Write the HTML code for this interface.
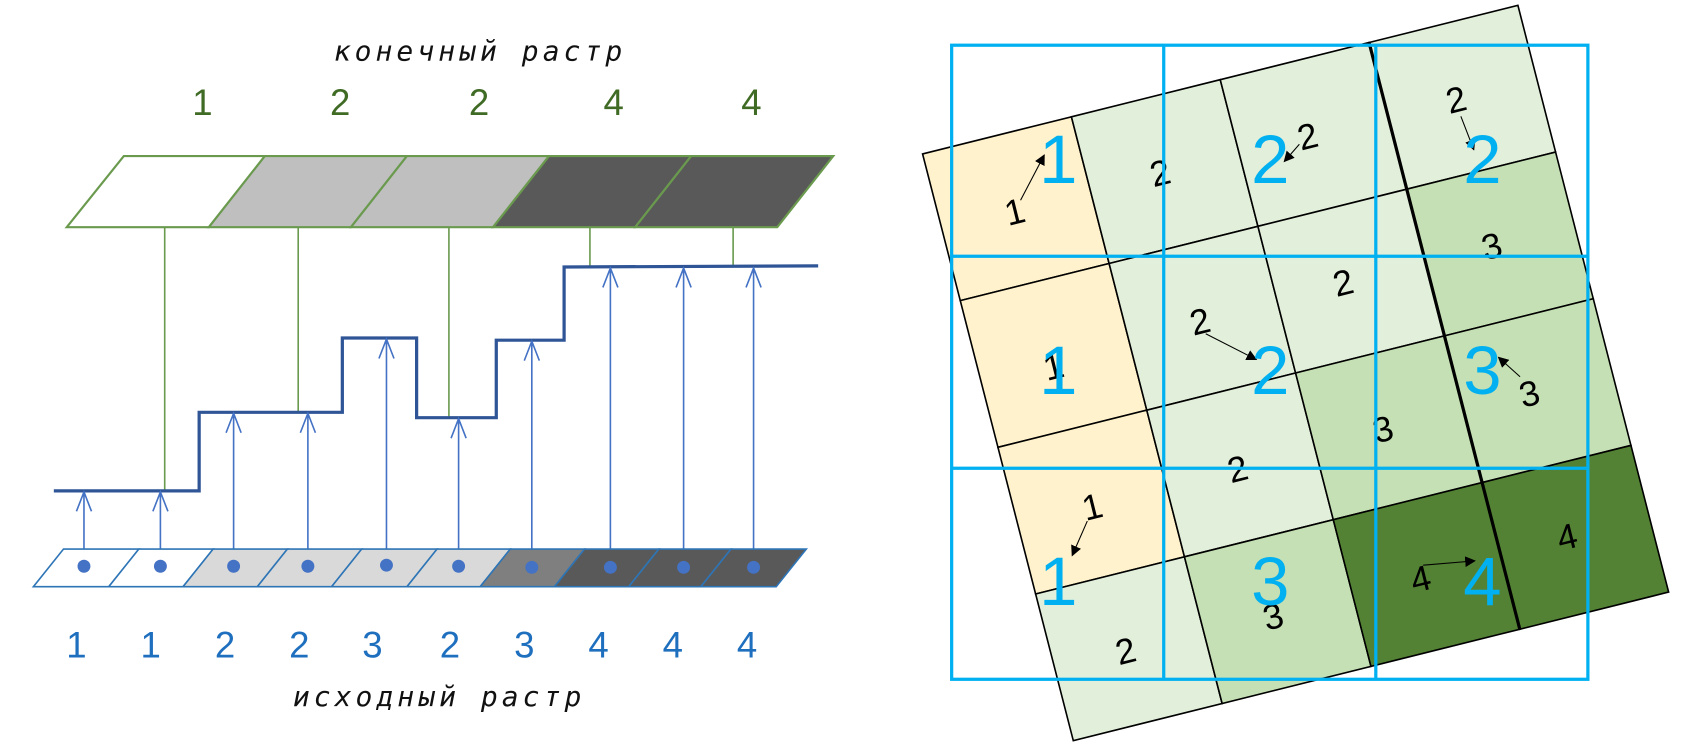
<!DOCTYPE html>
<html><head><meta charset="utf-8"><style>
html,body{margin:0;padding:0;background:#fff;}
svg{display:block;}
.t{font-family:"DejaVu Sans Mono","Liberation Mono",monospace;font-style:italic;font-size:26px;fill:#111;}
.g{font-family:"Liberation Sans",sans-serif;font-size:34px;fill:#3f6b25;text-anchor:middle;}
.b{font-family:"Liberation Sans",sans-serif;font-size:34px;fill:#1f6fbf;text-anchor:middle;}
.k{font-family:"Liberation Sans",sans-serif;font-size:33px;fill:#000;text-anchor:middle;}
.big{font-family:"Liberation Sans",sans-serif;font-size:64px;fill:#00b0f0;text-anchor:middle;}
</style></head><body>
<svg width="1688" height="754" viewBox="0 0 1568 700.4" preserveAspectRatio="none" xmlns="http://www.w3.org/2000/svg">
<defs>
<marker id="ah" markerWidth="10" markerHeight="10" refX="9" refY="5" orient="auto" markerUnits="userSpaceOnUse"><path d="M0,0 L10,5 L0,10 z" fill="#000"/></marker>
</defs>

<text class="t" x="310" y="56" textLength="268" lengthAdjust="spacing">конечный растр</text>
<text class="g" x="188" y="107">1</text>
<text class="g" x="316" y="107">2</text>
<text class="g" x="445" y="107">2</text>
<text class="g" x="570" y="107">4</text>
<text class="g" x="698" y="107">4</text>

<g stroke="#6a9a4e" stroke-width="2">
<polygon points="62,211 194,211 246,145 115,145" fill="#fff"/>
<polygon points="194,211 326,211 378,145 246,145" fill="#bfbfbf"/>
<polygon points="326,211 458,211 510,145 378,145" fill="#bfbfbf"/>
<polygon points="458,211 590,211 642,145 510,145" fill="#595959"/>
<polygon points="590,211 722,211 774,145 642,145" fill="#595959"/>
</g>
<g stroke="#6a9a4e" stroke-width="1.5">
<line x1="153" y1="211" x2="153" y2="456"/>
<line x1="277" y1="211" x2="277" y2="383"/>
<line x1="417" y1="211" x2="417" y2="388"/>
<line x1="548" y1="211" x2="548" y2="248"/>
<line x1="681" y1="211" x2="681" y2="248"/>
</g>

<polyline points="50,456 185,456 185,383 318,383 318,314 387,314 387,388 461,388 461,316 524,316 524,248 760,247" fill="none" stroke="#2f5597" stroke-width="3"/>

<g stroke="#4472c4" stroke-width="1.5" fill="none">
<path d="M78,526 V457 M71,475 L78,457 L85,475"/>
<path d="M149,526 V457 M142,475 L149,457 L156,475"/>
<path d="M217,526 V384 M210,402 L217,384 L224,402"/>
<path d="M286,526 V384 M279,402 L286,384 L293,402"/>
<path d="M359,526 V315 M352,333 L359,315 L366,333"/>
<path d="M426,526 V389 M419,407 L426,389 L433,407"/>
<path d="M494,526 V317 M487,335 L494,317 L501,335"/>
<path d="M567,526 V249 M560,267 L567,249 L574,267"/>
<path d="M635,526 V249 M628,267 L635,249 L642,267"/>
<path d="M700,526 V249 M693,267 L700,249 L707,267"/>
</g>

<g stroke="#2e75b6" stroke-width="1.5">
<polygon points="31,545 101,545 129,510 59,510" fill="#fff"/>
<polygon points="101,545 170,545 198,510 129,510" fill="#fff"/>
<polygon points="170,545 239,545 267,510 198,510" fill="#d9d9d9"/>
<polygon points="239,545 308,545 336,510 267,510" fill="#d9d9d9"/>
<polygon points="308,545 378,545 406,510 336,510" fill="#d9d9d9"/>
<polygon points="378,545 446,545 474,510 406,510" fill="#d9d9d9"/>
<polygon points="446,545 515,545 543,510 474,510" fill="#7f7f7f"/>
<polygon points="515,545 584,545 612,510 543,510" fill="#595959"/>
<polygon points="584,545 651,545 679,510 612,510" fill="#595959"/>
<polygon points="651,545 721,545 749,510 679,510" fill="#595959"/>
</g>
<g fill="#4472c4">
<circle cx="78" cy="526" r="6"/><circle cx="149" cy="526" r="6"/><circle cx="217" cy="526" r="6"/>
<circle cx="286" cy="526" r="6"/><circle cx="359" cy="525" r="6"/><circle cx="426" cy="526" r="6"/>
<circle cx="494" cy="527" r="6"/><circle cx="567" cy="527" r="6"/><circle cx="635" cy="527" r="6"/>
<circle cx="700" cy="527" r="6"/>
</g>
<text class="b" x="71" y="611">1</text><text class="b" x="140" y="611">1</text>
<text class="b" x="209" y="611">2</text><text class="b" x="278" y="611">2</text>
<text class="b" x="346" y="611">3</text><text class="b" x="418" y="611">2</text>
<text class="b" x="487" y="611">3</text><text class="b" x="556" y="611">4</text>
<text class="b" x="625" y="611">4</text><text class="b" x="694" y="611">4</text>
<text class="t" x="272" y="656" textLength="268" lengthAdjust="spacing">исходный растр</text>

<g stroke="#000" stroke-width="1.5">
<polygon points="857,143 995.25,108.5 1030.25,244.75 892,279.25" fill="#fff2cc"/>
<polygon points="995.25,108.5 1133.5,74 1168.5,210.25 1030.25,244.75" fill="#e2efda"/>
<polygon points="1133.5,74 1271.75,39.5 1306.75,175.75 1168.5,210.25" fill="#e2efda"/>
<polygon points="1271.75,39.5 1410,5 1445,141.25 1306.75,175.75" fill="#e2efda"/>
<polygon points="892,279.25 1030.25,244.75 1065.25,381 927,415.5" fill="#fff2cc"/>
<polygon points="1030.25,244.75 1168.5,210.25 1203.5,346.5 1065.25,381" fill="#e2efda"/>
<polygon points="1168.5,210.25 1306.75,175.75 1341.75,312 1203.5,346.5" fill="#e2efda"/>
<polygon points="1306.75,175.75 1445,141.25 1480,277.5 1341.75,312" fill="#c5e0b4"/>
<polygon points="927,415.5 1065.25,381 1100.25,517.25 962,551.75" fill="#fff2cc"/>
<polygon points="1065.25,381 1203.5,346.5 1238.5,482.75 1100.25,517.25" fill="#e2efda"/>
<polygon points="1203.5,346.5 1341.75,312 1376.75,448.25 1238.5,482.75" fill="#c5e0b4"/>
<polygon points="1341.75,312 1480,277.5 1515,413.75 1376.75,448.25" fill="#c5e0b4"/>
<polygon points="962,551.75 1100.25,517.25 1135.25,653.5 997,688" fill="#e2efda"/>
<polygon points="1100.25,517.25 1238.5,482.75 1273.5,619 1135.25,653.5" fill="#c5e0b4"/>
<polygon points="1238.5,482.75 1376.75,448.25 1411.75,584.5 1273.5,619" fill="#548235"/>
<polygon points="1376.75,448.25 1515,413.75 1550,550 1411.75,584.5" fill="#548235"/>
</g>
<line x1="1271.75" y1="39.5" x2="1411.75" y2="584.5" stroke="#000" stroke-width="3"/>

<g class="k">
<text x="943" y="208" transform="rotate(-14 943 198)">1</text>
<text x="1078" y="172" transform="rotate(-14 1078 162)">2</text>
<text x="1215" y="138" transform="rotate(-14 1215 128)">2</text>
<text x="1353" y="104" transform="rotate(-14 1353 94)">2</text>
<text x="1386" y="240" transform="rotate(-14 1386 230)">3</text>
<text x="1248" y="274" transform="rotate(-14 1248 264)">2</text>
<text x="1115" y="310" transform="rotate(-14 1115 300)">2</text>
<text x="979" y="352" transform="rotate(-14 979 342)">1</text>
<text x="1421" y="377" transform="rotate(-14 1421 367)">3</text>
<text x="1285" y="410" transform="rotate(-14 1285 400)">3</text>
<text x="1150" y="447" transform="rotate(-14 1150 437)">2</text>
<text x="1015" y="482" transform="rotate(-14 1015 472)">1</text>
<text x="1456" y="510" transform="rotate(-14 1456 500)">4</text>
<text x="1320" y="549" transform="rotate(-14 1320 539)">4</text>
<text x="1183" y="584" transform="rotate(-14 1183 574)">3</text>
<text x="1046" y="616" transform="rotate(-14 1046 606)">2</text>
</g>
<g stroke="#000" stroke-width="1" marker-end="url(#ah)">
<line x1="948" y1="186" x2="970" y2="144"/>
<line x1="1207" y1="134" x2="1193" y2="150"/>
<line x1="1357" y1="108" x2="1369" y2="139"/>
<line x1="1120" y1="310" x2="1167" y2="334"/>
<line x1="1412" y1="350" x2="1392" y2="332"/>
<line x1="1010" y1="484" x2="996" y2="516"/>
<line x1="1322" y1="525" x2="1370" y2="521"/>
</g>

<g stroke="#00b0f0" stroke-width="3" fill="none">
<rect x="884" y="42" width="591" height="589"/>
<line x1="1081" y1="42" x2="1081" y2="631"/>
<line x1="1278" y1="42" x2="1278" y2="631"/>
<line x1="884" y1="238" x2="1475" y2="238"/>
<line x1="884" y1="435" x2="1475" y2="435"/>
</g>
<g class="big">
<text x="983" y="170">1</text><text x="1180" y="170">2</text><text x="1377" y="170">2</text>
<text x="983" y="366">1</text><text x="1180" y="366">2</text><text x="1377" y="366">3</text>
<text x="983" y="562">1</text><text x="1180" y="562">3</text><text x="1377" y="562">4</text>
</g>
</svg>
</body></html>
